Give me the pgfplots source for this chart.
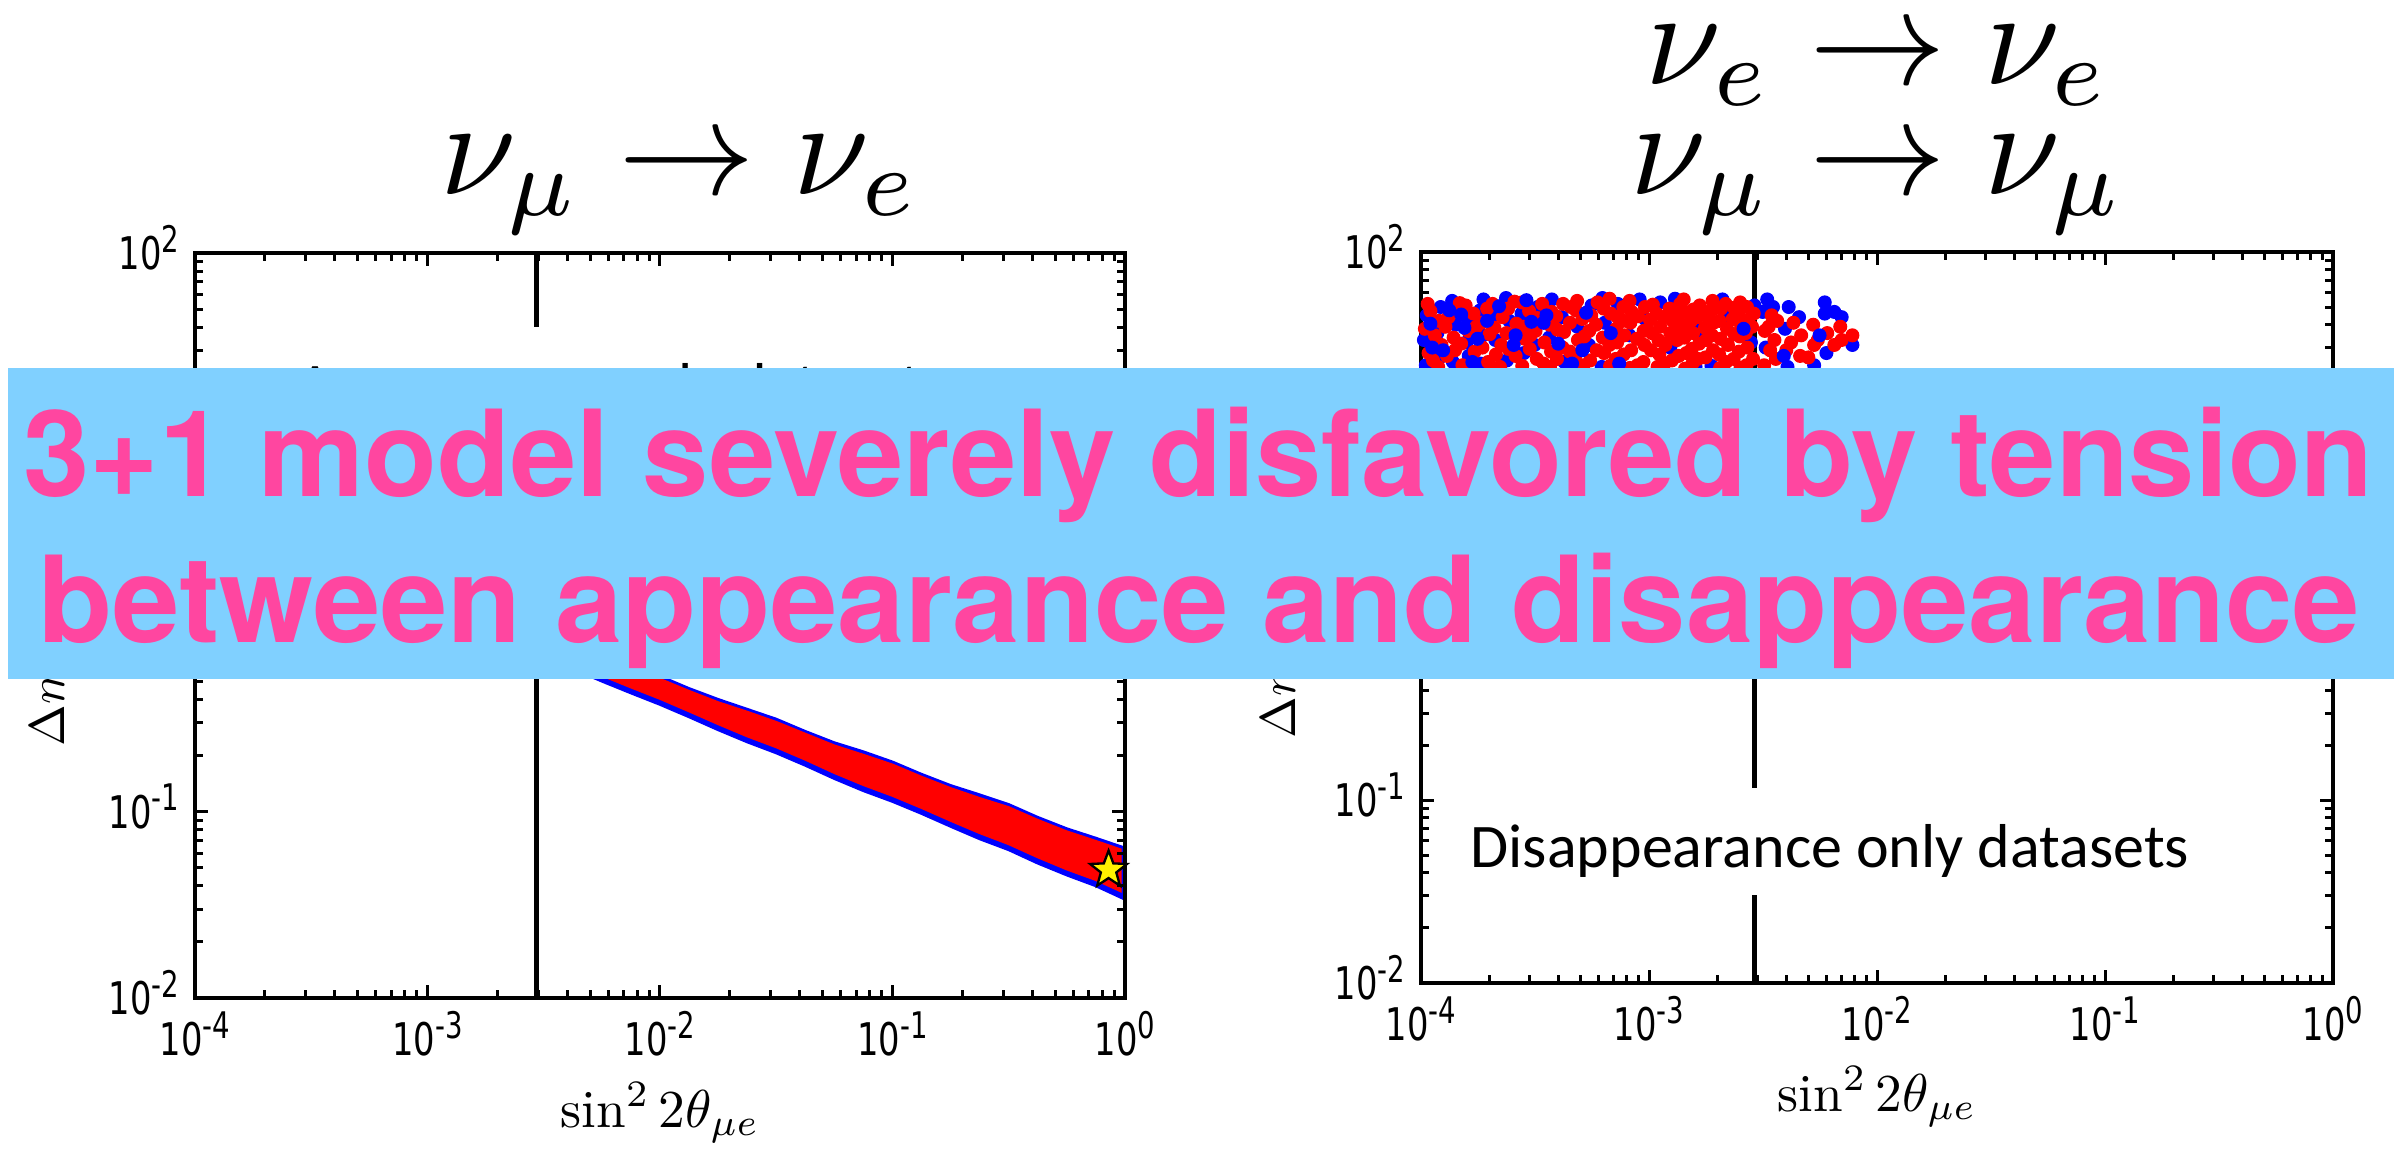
\documentclass[border=0pt]{standalone}
\usepackage{fontspec}
\usepackage{graphicx}
\usepackage{pgfplots}
\pgfplotsset{compat=1.18}
\newfontfamily\tickfont{DejaVu Sans}
\newfontfamily\calibri{Carlito}
\newfontfamily\heros{TeX Gyre Heros}
\definecolor{bannerblue}{RGB}{128,208,255}
\definecolor{bannerpink}{RGB}{255,70,160}
\newcommand{\tl}[1]{\scalebox{0.75}[1]{\tickfont\fontsize{13.5}{15}\selectfont 10\raisebox{0.38em}{\fontsize{11}{12}\selectfont #1}}}
\pgfdeclareplotmark{fstar}{%
  \pgfpathmoveto{\pgfpointpolar{90}{\pgfplotmarksize}}%
  \pgfpathlineto{\pgfpointpolar{126}{0.42\pgfplotmarksize}}%
  \pgfpathlineto{\pgfpointpolar{162}{\pgfplotmarksize}}%
  \pgfpathlineto{\pgfpointpolar{198}{0.42\pgfplotmarksize}}%
  \pgfpathlineto{\pgfpointpolar{234}{\pgfplotmarksize}}%
  \pgfpathlineto{\pgfpointpolar{270}{0.42\pgfplotmarksize}}%
  \pgfpathlineto{\pgfpointpolar{306}{\pgfplotmarksize}}%
  \pgfpathlineto{\pgfpointpolar{342}{0.42\pgfplotmarksize}}%
  \pgfpathlineto{\pgfpointpolar{18}{\pgfplotmarksize}}%
  \pgfpathlineto{\pgfpointpolar{54}{0.42\pgfplotmarksize}}%
  \pgfpathclose
  \pgfusepathqfillstroke}
\begin{document}
\begin{tikzpicture}
\path[use as bounding box, fill=white] (0pt,0pt) rectangle (718.2pt,345.3pt);

% ---------- left panel: appearance ----------
\begin{axis}[
  at={(58.5pt,45.9pt)}, anchor=south west, scale only axis, width=279pt, height=223.5pt, clip=false,
  xmode=log, ymode=log,
  xmin=1e-4, xmax=1, ymin=1e-2, ymax=1e2,
  axis line style={line width=1.2pt},
  every tick/.style={line width=0.9pt, black},
  major tick length=3.9pt, minor tick length=2.4pt,
  tick align=inside, tickpos=both,
  xtick={1e-4,1e-3,1e-2,1e-1,1},
  xticklabels={\tl{-4},\tl{-3},\tl{-2},\tl{-1},\tl{0}},
  ytick={1e-2,1e-1,1,1e1,1e2},
  yticklabels={\tl{-2},\tl{-1},\tl{0},\tl{1},\tl{2}},
  minor xtick={2e-4,3e-4,4e-4,5e-4,6e-4,7e-4,8e-4,9e-4,2e-3,3e-3,4e-3,5e-3,6e-3,7e-3,8e-3,9e-3,2e-2,3e-2,4e-2,5e-2,6e-2,7e-2,8e-2,9e-2,0.2,0.3,0.4,0.5,0.6,0.7,0.8,0.9},
  minor ytick={0.02,0.03,0.04,0.05,0.06,0.07,0.08,0.09,0.2,0.3,0.4,0.5,0.6,0.7,0.8,0.9,2,3,4,5,6,7,8,9,20,30,40,50,60,70,80,90},
  xticklabel style={anchor=north, inner sep=0pt, yshift=-3.8pt},
  yticklabel style={anchor=base east, inner sep=0pt, xshift=-4.5pt, yshift=-4.9pt},
  axis on top]
\addplot[fill=blue, draw=blue, line width=0.6pt] coordinates {
(3.16e-3,0.903)(4.2e-3,0.79)(5.62e-3,0.692)(7.5e-3,0.61)(1e-2,0.537)(1.33e-2,0.462)(1.78e-2,0.403)(2.37e-2,0.357)(3.16e-2,0.316)(4.2e-2,0.272)(5.62e-2,0.236)(7.5e-2,0.211)(0.1,0.186)(0.133,0.160)(0.178,0.139)(0.237,0.124)(0.316,0.110)(0.42,0.094)(0.562,0.0815)(0.75,0.0725)(0.97,0.0650)
(0.975,0.0342)(0.75,0.0398)(0.562,0.0455)(0.42,0.0528)(0.316,0.0622)(0.237,0.0712)(0.178,0.0830)(0.133,0.0975)(0.1,0.1130)(7.5e-2,0.129)(5.62e-2,0.150)(4.2e-2,0.177)(3.16e-2,0.206)(2.37e-2,0.236)(1.78e-2,0.274)(1.33e-2,0.322)(1e-2,0.375)(7.5e-3,0.432)(5.62e-3,0.500)(4.2e-3,0.584)(3.16e-3,0.679)};
\addplot[fill=red, draw=red, line width=0.4pt] coordinates {
(3.16e-3,0.872)(4.2e-3,0.762)(5.62e-3,0.668)(7.5e-3,0.591)(1e-2,0.519)(1.33e-2,0.448)(1.78e-2,0.389)(2.37e-2,0.346)(3.16e-2,0.305)(4.2e-2,0.264)(5.62e-2,0.228)(7.5e-2,0.203)(0.1,0.180)(0.133,0.155)(0.178,0.1345)(0.237,0.119)(0.316,0.1063)(0.42,0.091)(0.562,0.0788)(0.75,0.0700)(0.96,0.0630)
(0.96,0.0372)(0.75,0.0428)(0.562,0.0488)(0.42,0.0568)(0.316,0.0667)(0.237,0.0765)(0.178,0.0890)(0.133,0.1045)(0.1,0.1212)(7.5e-2,0.1385)(5.62e-2,0.1608)(4.2e-2,0.190)(3.16e-2,0.221)(2.37e-2,0.253)(1.78e-2,0.294)(1.33e-2,0.345)(1e-2,0.402)(7.5e-3,0.463)(5.62e-3,0.536)(4.2e-3,0.626)(3.16e-3,0.728)};
\addplot[black, line width=1.5pt] coordinates {(2.93e-3,0.01) (2.93e-3,4.7)};
\addplot[black, line width=1.5pt] coordinates {(2.93e-3,40.1) (2.93e-3,100)};
\addplot[only marks, mark=fstar, mark size=5.8pt, mark options={fill=yellow, draw=black, line width=0.7pt}] coordinates {(0.85,0.0487)};
\node[anchor=base west, inner sep=0pt, font=\calibri\fontsize{18.6}{22}\selectfont] at (axis cs:2.75e-4,14.9) {Appearance only datasets};
\end{axis}

% ---------- right panel: disappearance ----------
\begin{axis}[
  at={(426.3pt,50.4pt)}, anchor=south west, scale only axis, width=273.6pt, height=219.3pt,
  xmode=log, ymode=log,
  xmin=1e-4, xmax=1, ymin=1e-2, ymax=1e2,
  axis line style={line width=1.2pt},
  every tick/.style={line width=0.9pt, black},
  major tick length=3.9pt, minor tick length=2.4pt,
  tick align=inside, tickpos=both,
  xtick={1e-4,1e-3,1e-2,1e-1,1},
  xticklabels={\tl{-4},\tl{-3},\tl{-2},\tl{-1},\tl{0}},
  ytick={1e-2,1e-1,1,1e1,1e2},
  yticklabels={\tl{-2},\tl{-1},\tl{0},\tl{1},\tl{2}},
  minor xtick={2e-4,3e-4,4e-4,5e-4,6e-4,7e-4,8e-4,9e-4,2e-3,3e-3,4e-3,5e-3,6e-3,7e-3,8e-3,9e-3,2e-2,3e-2,4e-2,5e-2,6e-2,7e-2,8e-2,9e-2,0.2,0.3,0.4,0.5,0.6,0.7,0.8,0.9},
  minor ytick={0.02,0.03,0.04,0.05,0.06,0.07,0.08,0.09,0.2,0.3,0.4,0.5,0.6,0.7,0.8,0.9,2,3,4,5,6,7,8,9,20,30,40,50,60,70,80,90},
  xticklabel style={anchor=north, inner sep=0pt, yshift=-3.8pt},
  yticklabel style={anchor=base east, inner sep=0pt, xshift=-4.5pt, yshift=-4.9pt},
  axis on top]
% blue points (lower layer)
\addplot[only marks, mark=*, mark size=1.9pt, blue, mark options={draw=blue, fill=blue}] coordinates {
(1.05e-4,24)(1.03e-4,33)(1.06e-4,45)
(1.21e-4,26.5)(1.18e-4,36)(1.22e-4,50)
(1.38e-4,25)(1.42e-4,40)(1.37e-4,54)
(1.62e-4,27)(1.58e-4,32)(1.63e-4,43)
(1.83e-4,24.5)(1.87e-4,35)(1.82e-4,48)(1.88e-4,55)
(2.12e-4,33)(2.07e-4,45)
(2.38e-4,25.5)(2.44e-4,42)(2.36e-4,56)
(2.83e-4,28)(2.76e-4,46)
(3.15e-4,31)(3.25e-4,50)
(3.65e-4,34)(3.75e-4,55)
(4.25e-4,25)(4.15e-4,44)
(4.85e-4,39)
(5.45e-4,31)(5.6e-4,51)
(6.2e-4,23.5)(6.4e-4,41)(6.25e-4,56)
(7.3e-4,52)
(8.2e-4,35)
(9.6e-4,43)
(1.12e-3,53)
(1.24e-3,30)
(1.67e-3,37.5)
(1.88e-3,23.8)
(2.23e-3,45)
(2.8e-3,32)(2.9e-3,51)
(3.25e-3,30)(3.15e-3,47)
(4.05e-3,23.5)(3.95e-3,38)(4.1e-3,50)
(4.55e-3,44)
(5.3e-3,24)
(6.0e-3,28)(5.9e-3,46)
(1.3e-3,55.5)(2.1e-3,55)(3.3e-3,55)(3.5e-3,50)(5.9e-3,53)(6.5e-3,47)(7.8e-3,31)(7.0e-3,44)(9.1e-4,55)(1.6e-3,23.5)};
% red points
\addplot[only marks, mark=*, mark size=1.9pt, red, mark options={draw=red, fill=red}] coordinates {
(1.08e-4,28)(1.04e-4,38)(1.07e-4,52)
(1.19e-4,23.5)(1.23e-4,31)(1.2e-4,42)
(1.41e-4,29)(1.39e-4,34)(1.43e-4,47)
(1.59e-4,23)(1.61e-4,37)(1.57e-4,51)
(1.86e-4,30)(1.84e-4,41)
(2.09e-4,23.2)(2.13e-4,27.5)(2.1e-4,38.5)(2.06e-4,52)
(2.42e-4,29.5)(2.37e-4,36)(2.41e-4,49)
(2.78e-4,23.8)(2.85e-4,33.5)(2.81e-4,39)(2.77e-4,53)
(3.22e-4,26)(3.18e-4,37)(3.24e-4,43.5)
(3.68e-4,23.5)(3.72e-4,28.5)(3.66e-4,40)(3.74e-4,47)
(4.18e-4,30)(4.24e-4,36.5)(4.2e-4,52)
(4.82e-4,23)(4.75e-4,27)(4.88e-4,33)(4.78e-4,48)(4.84e-4,54)
(5.52e-4,25.5)(5.47e-4,37)(5.58e-4,45)
(6.35e-4,28)(6.27e-4,34)(6.33e-4,49)
(7.15e-4,26)(7.25e-4,32)(7.18e-4,38)(7.28e-4,44)
(8.25e-4,23.2)(8.35e-4,29)(8.28e-4,41)(8.4e-4,47)(8.22e-4,54)
(9.45e-4,25)(9.55e-4,31)(9.48e-4,37)(9.6e-4,50)
(1.09e-3,23.5)(1.11e-3,27.5)(1.1e-3,33)(1.12e-3,39)(1.08e-3,46)
(1.26e-3,25.5)(1.24e-3,36)(1.27e-3,42)(1.23e-3,49)
(1.44e-3,23)(1.46e-3,28)(1.43e-3,34)(1.47e-3,40)(1.45e-3,47)(1.42e-3,55)
(1.64e-3,26)(1.66e-3,31.5)(1.63e-3,44)(1.67e-3,51)
(1.91e-3,29)(1.89e-3,35)(1.92e-3,41)(1.88e-3,48)(1.9e-3,54)
(2.18e-3,25)(2.22e-3,31)(2.2e-3,38)(2.17e-3,52)
(2.52e-3,23.3)(2.48e-3,28.5)(2.5e-3,34.5)(2.53e-3,40)(2.47e-3,47)(2.51e-3,53)
(2.86e-3,26)(2.83e-3,39)(2.88e-3,46)
(3.2e-3,24)(3.22e-3,37)
(3.6e-3,26)(3.55e-3,33)(3.65e-3,42)
(4.0e-3,29)
(4.6e-3,27)(4.65e-3,35)
(5.3e-3,31)(5.25e-3,40)
(6.05e-3,36)
(7.0e-3,33)(6.9e-3,39)
(7.8e-3,35)
(1.13e-4,25.5)(1.15e-4,35)(1.1e-4,47.5)
(1.3e-4,27)(1.32e-4,44)(1.28e-4,39)
(1.5e-4,31.5)(1.52e-4,24)(1.48e-4,52.5)
(1.72e-4,28.5)(1.7e-4,46)(1.75e-4,39)
(1.97e-4,25)(2.0e-4,35.5)(1.95e-4,49)
(2.25e-4,31)(2.28e-4,44)(2.22e-4,23.5)
(2.6e-4,27)(2.62e-4,40.5)(2.57e-4,53.5)
(3.0e-4,29.5)(2.98e-4,47.5)(3.02e-4,35)
(3.45e-4,24.5)(3.48e-4,32)(3.4e-4,52)
(3.95e-4,26)(3.98e-4,37.5)(3.92e-4,44.5)
(4.5e-4,28.5)(4.5e-4,41)(4.55e-4,50)
(5.15e-4,24)(5.2e-4,34.5)(5.1e-4,43)
(5.9e-4,29)(5.85e-4,40)(5.95e-4,53)
(6.75e-4,23.8)(6.7e-4,31)(6.8e-4,46)(6.72e-4,55.5)
(7.75e-4,27.5)(7.8e-4,35)(7.7e-4,42)(7.72e-4,50)
(8.9e-4,24)(8.85e-4,33.5)(8.95e-4,44.5)
(1.02e-3,29)(1.03e-3,36)(1.01e-3,42.5)(1.04e-3,51.5)
(1.17e-3,24.5)(1.18e-3,31)(1.16e-3,44)
(1.35e-3,27)(1.33e-3,33)(1.36e-3,38)(1.34e-3,45)(1.37e-3,52)
(1.55e-3,24.5)(1.54e-3,29.5)(1.56e-3,36)(1.53e-3,42)(1.57e-3,48.5)
(1.77e-3,26.5)(1.78e-3,33)(1.76e-3,38.5)(1.79e-3,45)
(2.05e-3,23.2)(2.03e-3,27.5)(2.06e-3,33.5)(2.04e-3,42)(2.07e-3,49)
(2.35e-3,26)(2.37e-3,35.5)(2.33e-3,43)(2.36e-3,49.5)
(2.68e-3,24)(2.7e-3,30)(2.66e-3,36)(2.72e-3,42.5)(2.69e-3,50)
(3.4e-3,29)(3.35e-3,39)(3.45e-3,45)
(4.2e-3,32)(4.3e-3,41)
(5.0e-3,26.5)(5.5e-3,33)(6.5e-3,31)};
% blue points (upper layer)
\addplot[only marks, mark=*, mark size=1.9pt, blue, mark options={draw=blue, fill=blue}] coordinates {
(1.12e-4,30)(1.5e-4,45.5)(2.6e-4,35)(3.45e-4,41)(5.1e-4,29)(6.8e-4,36)(3.9e-3,27)(5.6e-3,35)
(1.1e-4,40.5)(1.25e-4,29)(1.33e-4,48)(1.55e-4,38.5)(1.68e-4,25)(1.77e-4,33.5)(1.95e-4,42)(2.2e-4,50.5)(2.55e-4,31)(2.9e-4,54.5)(3.05e-4,41.5)(3.55e-4,45)(4.0e-4,31.5)(4.6e-4,24.5)(5.3e-4,46.5)(7.4e-4,24.5)(2.6e-3,38)};
\addplot[black, line width=1.5pt] coordinates {(2.9e-3,0.01) (2.9e-3,0.0303)};
\addplot[black, line width=1.5pt] coordinates {(2.9e-3,0.1167) (2.9e-3,100)};
\node[anchor=base west, inner sep=0pt, font=\calibri\fontsize{18.6}{22}\selectfont] at (axis cs:1.64e-4,0.0426) {Disappearance only datasets};
\end{axis}

% ---------- titles and axis labels ----------
\node[anchor=base, inner sep=0pt] at (204pt,286.8pt) {\scalebox{4.1}{$\nu_\mu \to \nu_e$}};
\node[anchor=base, inner sep=0pt] at (563.4pt,319.8pt) {\scalebox{4.1}{$\nu_e \to \nu_e$}};
\node[anchor=base, inner sep=0pt] at (563.4pt,286.8pt) {\scalebox{4.1}{$\nu_\mu \to \nu_\mu$}};
\node[anchor=base, inner sep=0pt] at (198pt,6.9pt) {\scalebox{1.6}{$\sin^2 2\theta_{\mu e}$}};
\node[anchor=base, inner sep=0pt] at (563.1pt,11.7pt) {\scalebox{1.6}{$\sin^2 2\theta_{\mu e}$}};
\node[rotate=90, anchor=base, inner sep=0pt] at (19.5pt,157.65pt) {\scalebox{1.5}{$\Delta m^2$ (eV$^2$)}};
\node[rotate=90, anchor=base, inner sep=0pt] at (388.5pt,160.05pt) {\scalebox{1.5}{$\Delta m^2$ (eV$^2$)}};

% ---------- banner ----------
\fill[bannerblue] (2.4pt,141.6pt) rectangle (718.2pt,234.9pt);
\node[anchor=base west, inner sep=0pt, text=bannerpink, font=\heros\bfseries\fontsize{36}{40}\selectfont] at (6.9pt,196.2pt) {\resizebox{705pt}{\height}{3+1 model severely disfavored by tension}};
\node[anchor=base west, inner sep=0pt, text=bannerpink, font=\heros\bfseries\fontsize{36}{40}\selectfont] at (11.4pt,152.4pt) {\resizebox{696.3pt}{\height}{between appearance and disappearance}};
\end{tikzpicture}
\end{document}
